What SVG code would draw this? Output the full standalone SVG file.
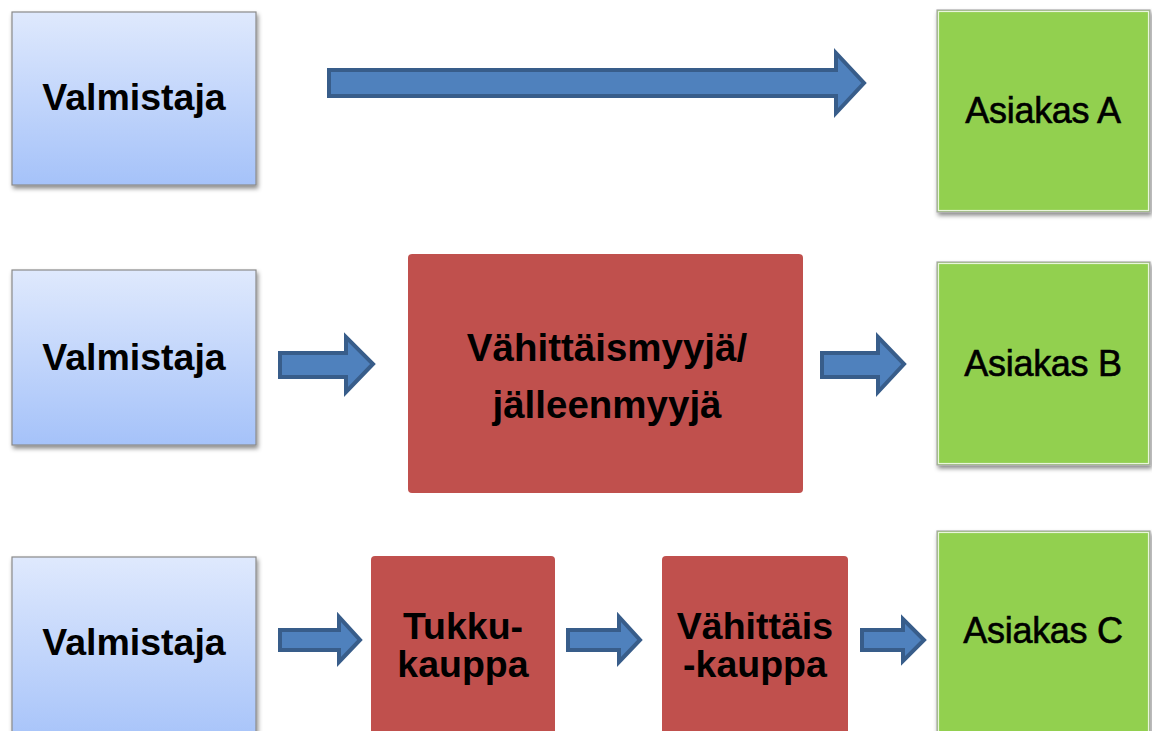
<svg xmlns="http://www.w3.org/2000/svg" width="1152" height="731" viewBox="0 0 1152 731">
<defs>
<linearGradient id="blueGrad" x1="0" y1="0" x2="0" y2="1">
<stop offset="0" stop-color="#dfe9fd"/>
<stop offset="1" stop-color="#a5c2f9"/>
</linearGradient>
<filter id="shadow" x="-10%" y="-10%" width="130%" height="130%">
<feDropShadow dx="1.5" dy="3" stdDeviation="2" flood-color="#000" flood-opacity="0.45"/>
</filter>
<style>
.maker{fill:url(#blueGrad);stroke:#8a8a8a;stroke-width:1.2;filter:url(#shadow)}
.cust{fill:#92d050;stroke:#a8a8a8;stroke-width:1.2;filter:url(#shadow)}
.custin{fill:none;stroke:#ffffff;stroke-width:1.2;opacity:0.8}
.mid{fill:#c0504d}
.arrow{fill:#4f81bd;stroke:#385d8a;stroke-width:4;stroke-linejoin:miter}
.tb{font-family:"Liberation Sans",Arial,sans-serif;font-weight:bold;font-size:37.5px;fill:#000;text-anchor:middle}
.tr{font-family:"Liberation Sans",Arial,sans-serif;font-size:36px;fill:#000;stroke:#000;stroke-width:0.6;text-anchor:middle;letter-spacing:-0.3px}
</style>
</defs>
<rect width="1152" height="731" fill="#ffffff"/>

<g id="valmistaja-a">
<rect class="maker" x="12" y="12" width="244" height="173"/>
<text class="tb" x="134" y="110">Valmistaja</text>
</g>
<g id="asiakas-a">
<rect class="cust" x="937" y="10" width="213" height="202"/>
<rect class="custin" x="938.5" y="11.5" width="210" height="199"/>
<text class="tr" x="1043" y="123">Asiakas A</text>
</g>

<g id="valmistaja-b">
<rect class="maker" x="12" y="270" width="244" height="175"/>
<text class="tb" x="134" y="370">Valmistaja</text>
</g>
<g id="jalleenmyyja">
<rect class="mid" x="408" y="254" width="395" height="239" rx="4"/>
<text class="tb" x="607" y="361" style="font-size:38.5px">Vähittäismyyjä/</text>
<text class="tb" x="607" y="418" style="font-size:38.5px">jälleenmyyjä</text>
</g>
<g id="asiakas-b">
<rect class="cust" x="937" y="262" width="213" height="203"/>
<rect class="custin" x="938.5" y="263.5" width="210" height="200"/>
<text class="tr" x="1043" y="376">Asiakas B</text>
</g>

<g id="valmistaja-c">
<rect class="maker" x="12" y="557" width="244" height="190"/>
<text class="tb" x="134" y="655">Valmistaja</text>
</g>
<g id="tukkukauppa">
<rect class="mid" x="371" y="556" width="184" height="190" rx="4"/>
<text class="tb" x="463" y="639">Tukku-</text>
<text class="tb" x="463" y="677">kauppa</text>
</g>
<g id="vahittaiskauppa">
<rect class="mid" x="662" y="556" width="186" height="190" rx="4"/>
<text class="tb" x="755" y="639">Vähittäis</text>
<text class="tb" x="755" y="677">-kauppa</text>
</g>
<g id="asiakas-c">
<rect class="cust" x="937" y="531" width="213" height="215"/>
<rect class="custin" x="938.5" y="532.5" width="210" height="212"/>
<text class="tr" x="1043" y="643">Asiakas C</text>
</g>

<g id="connectors">
<polygon class="arrow" points="329,70 836,70 836,53 864,83 836,113 836,96 329,96"/>
<polygon class="arrow" points="280,353 346,353 346,337 373,364 346,392 346,377 280,377"/>
<polygon class="arrow" points="822,353 878,353 878,337 904,364 878,392 878,377 822,377"/>
<polygon class="arrow" points="280,630 339,630 339,617 360,640 339,662 339,650 280,650"/>
<polygon class="arrow" points="568,630 619,630 619,617 640,640 619,662 619,650 568,650"/>
<polygon class="arrow" points="862,630 903,630 903,619 924,640 903,661 903,650 862,650"/>
</g>
</svg>
